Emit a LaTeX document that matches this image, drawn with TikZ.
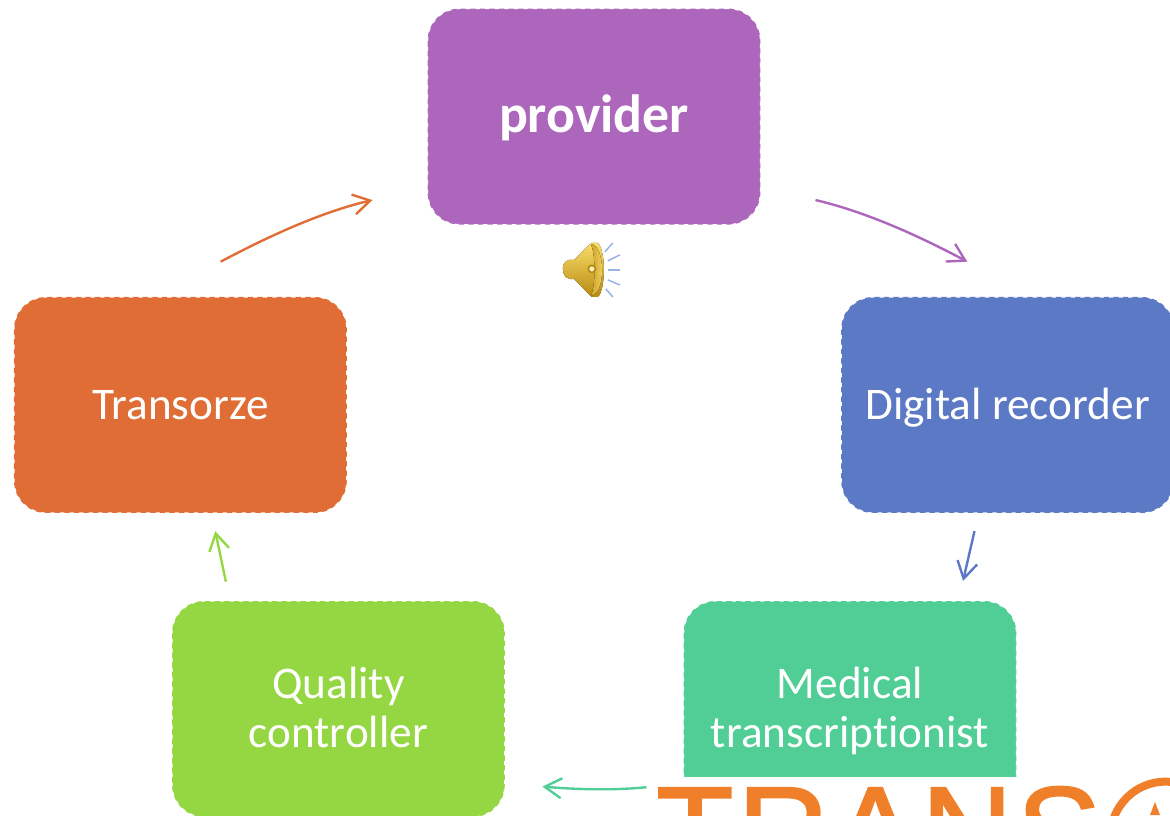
\documentclass[tikz,border=0pt]{standalone}
\usepackage{fontspec}
\setmainfont[Ligatures=NoCommon]{Carlito}
\newfontfamily\logofont[FakeBold=1.6,LetterSpace=3.2]{Liberation Sans}
\usetikzlibrary{arrows.meta}
\definecolor{providercol}{HTML}{AC66BB}
\definecolor{recordercol}{HTML}{5B79C4}
\definecolor{medicalcol}{HTML}{50CE96}
\definecolor{qualitycol}{HTML}{95D743}
\definecolor{transorzecol}{HTML}{DF6D35}
\definecolor{logocol}{HTML}{F07F2A}
\definecolor{goldlight}{HTML}{F9DC6A}
\definecolor{golddark}{HTML}{B88A10}
\definecolor{raycol}{HTML}{9DB4E2}
\begin{document}
\begin{tikzpicture}[>={Straight Barb[length=0.42cm,width=0.5cm]}]
		\tikzstyle{stage}=[draw=white,dash pattern=on 3pt off 3.8pt,line width=0.8pt,rounded corners=0.8cm,minimum width=8.32cm,minimum height=5.4cm,align=center,text=white,text height=0.95cm,text depth=0.2cm,font=\fontsize{32.2}{34.8}\selectfont]
		\tikzstyle{twolines}=[text height=2.1cm,text depth=0.2cm]
		\tikzstyle{link}=[->,line width=1.7pt]
		
		\useasboundingbox (0,0) rectangle (29.25,20.375);
		
		\node[stage,fill=providercol,text height=1cm,text depth=0.22cm,font=\fontsize{38.3}{40}\selectfont\bfseries](provider) at (14.85,17.46){provider};
		\node[stage,fill=recordercol](recorder) at (25.19,10.25){Digital recorder};
		\node[stage,twolines,fill=medicalcol](medical) at (21.25,2.65){Medical\\transcriptionist};
		\node[stage,twolines,fill=qualitycol](quality) at (8.46,2.65){Quality\\controller};
		\node[stage,fill=transorzecol](transorze) at (4.51,10.25){Transorze};
		
		\draw[link,providercol,shorten <=1.4cm,shorten >=1.85cm] (provider.-23) to[out=-13,in=152] (recorder.77);
		\draw[link,recordercol,shorten <=0.45cm,shorten >=0.5cm] (recorder.-105.5) -- (medical.45.5);
		\draw[link,medicalcol,shorten <=0.92cm,shorten >=0.93cm] (medical.204) to[out=186,in=-5] (quality.-24.5);
		\draw[link,qualitycol,shorten <=0.48cm,shorten >=0.45cm] (quality.135.5) -- (transorze.-74);
		\draw[link,transorzecol,shorten <=1.85cm,shorten >=1.4cm] (transorze.103) to[out=28,in=193] (provider.-157);
		
		% logo
		\fill[white] (16.25,-0.1) rectangle (29.35,0.95);
		\node[inner sep=0pt,anchor=base west,text=logocol,font=\fontsize{90}{90}\logofont](logo) at (16.4,-1.5){TRANS};
		\node[draw=logocol,line width=5.7pt,shape=circle,inner sep=0pt,minimum size=2.75cm](ring) at (29.14,-0.54){};
		\fill[logocol] (28.75,0) -- (28.875,0.325) -- (29,0) -- cycle;
		
		% speaker
		\begin{scope}[x=0.025cm,y=-0.025cm,yshift=20.375cm]
			\fill[top color=goldlight,bottom color=golddark] (563,269) .. controls (563,262) and (567,259) .. (574,260) .. controls (580,255) and (586,247) .. (592,243) -- (598,243) .. controls (606,250) and (606,290) .. (598,297) -- (592,297) .. controls (586,292) and (580,284) .. (574,279) .. controls (567,280) and (563,276) .. (563,269) -- cycle;
			\fill[left color=golddark!70!goldlight,right color=goldlight] (591,244) .. controls (606,246) and (606,294) .. (591,296) .. controls (596,285) and (596,255) .. (591,244) -- cycle;
			\fill[golddark] (592,269) circle (4.5);
			\fill[goldlight!40!white] (592,269) circle (2.5);
			\foreach \xa/\ya/\xb/\yb in {605/252/613/243,608/261/620/255,608/270/620/270,608/280/620/285,606/289/613/297}
				\draw[raycol,line width=1.1pt] (\xa,\ya) -- (\xb,\yb);
		\end{scope}
\end{tikzpicture}
\end{document}
